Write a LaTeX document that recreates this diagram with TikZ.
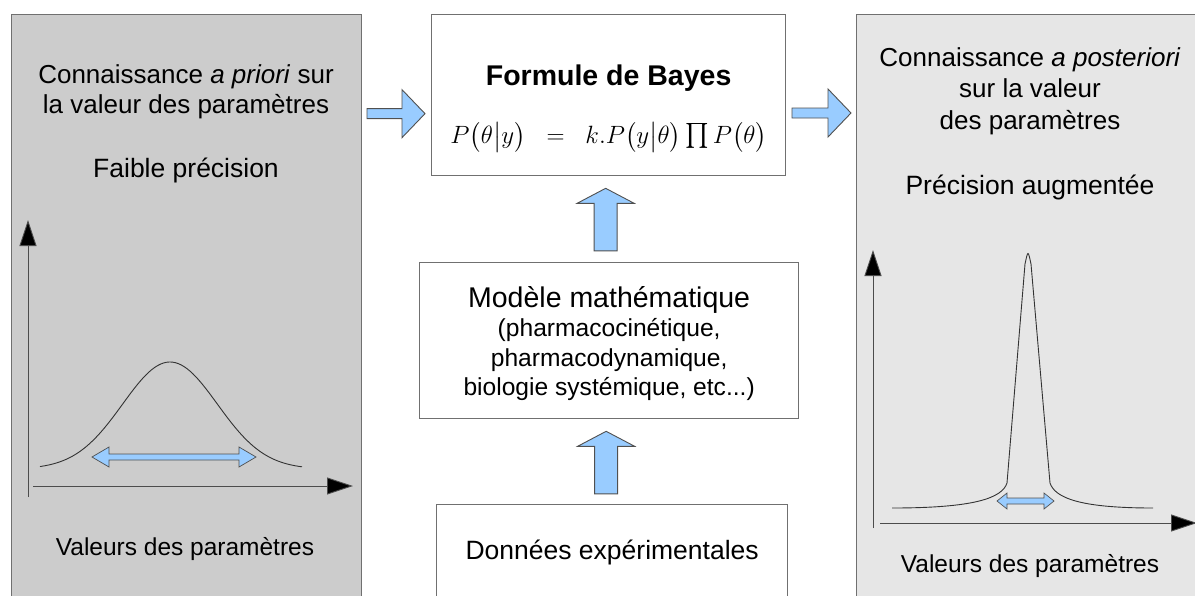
\RequirePackage{fix-cm}
\documentclass[tikz,border=0pt]{standalone}
\usepackage{amsmath}
\usepackage{fontspec}
\setmainfont{Liberation Sans}
\usetikzlibrary{calc,arrows.meta}
\definecolor{lightpanel}{HTML}{E6E6E6}
\definecolor{darkpanel}{HTML}{CCCCCC}
\definecolor{edgegray}{HTML}{707070}
\definecolor{arrowblue}{HTML}{99CCFF}
\definecolor{arrowedge}{HTML}{505050}
\begin{document}
\begin{tikzpicture}[x=1pt,y=-1pt,
	panel/.style={draw=edgegray, line width=1.3pt, anchor=north west},
	box/.style={panel, fill=white},
	txt/.style={font=\fontsize{26.5}{30}\selectfont, align=center, inner sep=0pt},
	fat/.style={draw=arrowedge, fill=arrowblue, line width=0.9pt},
	axis/.style={draw=black!70, line width=0.9pt, -{Triangle[length=26pt,width=17pt,fill=black]}},
	curve/.style={draw=black!80, line width=0.9pt}]
	\clip (0,0) rectangle (1195,595);
	\fill[white] (0,0) rectangle (1195,595);
	\node[panel, fill=darkpanel, minimum width=350pt, minimum height=620pt] (prior) at (11,14) {};
	\node[panel, fill=lightpanel, minimum width=360pt, minimum height=620pt] (post) at (856,14) {};
	\node[box, minimum width=354pt, minimum height=161pt] (bayes) at (431,14) {};
	\node[box, minimum width=379pt, minimum height=156pt] (model) at (419,262) {};
	\node[box, minimum width=351pt, minimum height=130pt] (data) at (436,504) {};

	\node[txt, font=\fontsize{26}{30}\selectfont] (priortitle) at (186,92) {Connaissance \textit{a priori} sur\\la valeur des paramètres};
	\node[txt] (priorprec) at (186,170) {Faible précision};
	\node[txt, font=\fontsize{24.5}{30}\selectfont] (priorlabel) at (185,549) {Valeurs des paramètres};
	\node[txt, font=\fontsize{26}{31.5}\selectfont] (posttitle) at (1030,91) {Connaissance \textit{a posteriori}\\sur la valeur\\des paramètres};
	\node[txt] (postprec) at (1030,187) {Précision augmentée};
	\node[txt, font=\fontsize{24.5}{30}\selectfont] (postlabel) at (1030,566) {Valeurs des paramètres};
	\node[txt, font=\fontsize{28.5}{30}\bfseries] (bayestitle) at ($(bayes.north)+(0,64)$) {Formule de Bayes};
	\node[txt, font=\fontsize{25}{30}\selectfont] (bayesformula) at ($(bayes.north)+(0,123)$) {$P\bigl(\theta\bigr|y\bigr)\hspace{14pt}=\hspace{14pt}k.P\bigl(y\bigr|\theta\bigr)\mathop{\hbox{\fontsize{31}{31}\selectfont$\prod$}}P\bigl(\theta\bigr)$};
	\node[txt, font=\fontsize{24.6}{29.5}\selectfont] (modeltxt) at ($(model.north)+(0,81.5)$) {{\fontsize{28.5}{34}\selectfont Modèle mathématique}\\(pharmacocinétique,\\pharmacodynamique,\\biologie systémique, etc...)};
	\node[txt] (datatxt) at ($(data.north)+(0,48.5)$) {Données expérimentales};

	\draw[fat] ($(bayes.west)+(-6,18.5)$) -- ++(-23,-24) -- ++(0,19) -- ++(-35,0) -- ++(0,10) -- ++(35,0) -- ++(0,19) -- cycle;
	\draw[fat] ($(post.north west)+(-5,99)$) -- ++(-23,-24) -- ++(0,19) -- ++(-36,0) -- ++(0,10) -- ++(36,0) -- ++(0,19) -- cycle;
	\foreach \n in {bayes,model} {\draw[fat] ($(\n.south)+(-3,12)$) -- ++(28.5,15) -- ++(-17,0) -- ++(0,47.5) -- ++(-23,0) -- ++(0,-47.5) -- ++(-17,0) -- cycle; }

	\draw[axis] (28,497) -- (28,220);
	\draw[axis] (33,486) -- (353,486);
	\draw[curve] plot[domain=40:302, samples=90, smooth] (\x, {469-107*exp(-((\x-170)/67)*((\x-170)/67))});
	\draw[fat, line width=0.7pt] (92,457) -- ++(17,-10) -- ++(0,7) -- ++(130,0) -- ++(0,-7) -- ++(17,10) -- ++(-17,10) -- ++(0,-7) -- ++(-130,0) -- ++(0,7) -- cycle;

	\draw[axis] (873,528) -- (873,250);
	\draw[axis] (880,523) -- (1197,523);
	\draw[curve] (892,508) .. controls (975,508) and (1002,498) .. (1007,483) -- (1025,264) .. controls (1028,250) .. (1031,264) -- (1050,483) .. controls (1055,498) and (1080,508) .. (1153,508);
	\draw[fat, line width=0.7pt] (997,501) -- ++(10,-8) -- ++(0,5) -- ++(37,0) -- ++(0,-5) -- ++(10,8) -- ++(-10,8) -- ++(0,-5) -- ++(-37,0) -- ++(0,5) -- cycle;
\end{tikzpicture}
\end{document}
